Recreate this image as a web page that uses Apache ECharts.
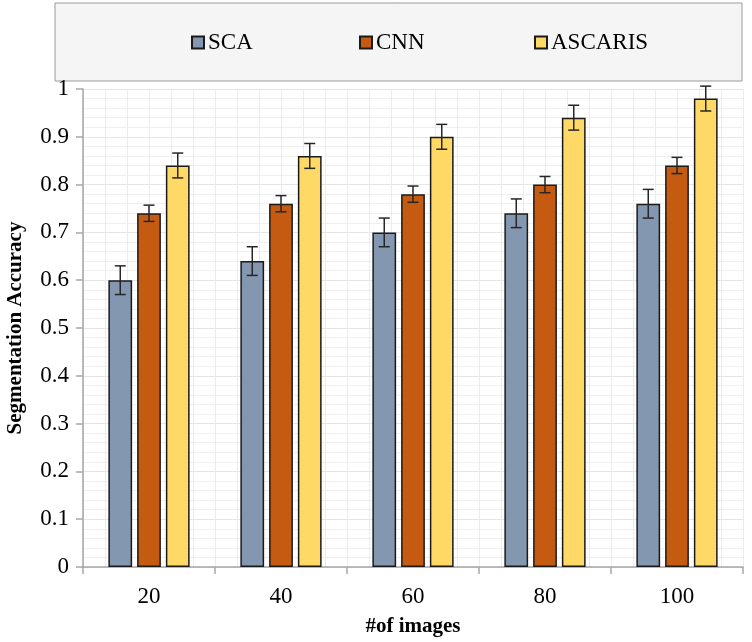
<!DOCTYPE html>
<html><head><meta charset="utf-8">
<script src="https://cdn.jsdelivr.net/npm/echarts@6/dist/echarts.min.js"></script>
<style>html,body{margin:0;padding:0;background:#fff}#c{width:752px;height:642px}</style>
</head><body><div id="c"></div>
<script>
const categories = ['20', '40', '60', '80', '100'];
const scaValues = [0.60, 0.64, 0.70, 0.74, 0.76];
const cnnValues = [0.74, 0.76, 0.78, 0.80, 0.84];
const ascarisValues = [0.84, 0.86, 0.90, 0.94, 0.98];
const scaErr = [0.03, 0.03, 0.03, 0.03, 0.03];
const cnnErr = [0.017, 0.017, 0.017, 0.017, 0.017];
const ascarisErr = [0.026, 0.026, 0.026, 0.026, 0.026];
const seriesNames = ['SCA', 'CNN', 'ASCARIS'];
const colors = ['#8497b0', '#c55a11', '#ffd966'];

const BAR_W = 0.18, BAR_GAP = 0.21;
const font = 'Liberation Serif, Times New Roman, serif';

function errSeries(vals, errs, idx) {
  return {
    type: 'custom', xAxisIndex: 0, yAxisIndex: 0, z: 5,
    data: vals.map((v, i) => [i, v, errs[i]]),
    renderItem: function (params, api) {
      const i = api.value(0), v = api.value(1), e = api.value(2);
      const band = api.size([1, 0])[0];
      const off = (idx - 1) * band * BAR_W * (1 + BAR_GAP);
      const hi = api.coord([i, v + e]);
      const lo = api.coord([i, v - e]);
      const x = hi[0] + off;
      const cap = 5.5;
      const st = { stroke: '#262626', lineWidth: 1.5 };
      return { type: 'group', children: [
        { type: 'line', shape: { x1: x, y1: hi[1], x2: x, y2: lo[1] }, style: st },
        { type: 'line', shape: { x1: x - cap, y1: hi[1], x2: x + cap, y2: hi[1] }, style: st },
        { type: 'line', shape: { x1: x - cap, y1: lo[1], x2: x + cap, y2: lo[1] }, style: st }
      ]};
    },
    silent: true, tooltip: { show: false }
  };
}

function barSeries(name, vals, color) {
  return {
    name: name, type: 'bar', xAxisIndex: 0, yAxisIndex: 0,
    barWidth: (BAR_W * 100) + '%', barGap: (BAR_GAP * 100) + '%',
    data: vals,
    itemStyle: { color: color, borderColor: '#1a1a1a', borderWidth: 1.5 }
  };
}

const legendBase = {
  top: 31, itemWidth: 12, itemHeight: 12, itemGap: 0, padding: 0,
  textStyle: { fontFamily: font, fontSize: 23, color: '#000', padding: [0, 0, 0, -1] },
  icon: 'rect'
};

const chart = echarts.init(document.getElementById('c'));
chart.setOption({
  backgroundColor: '#fff',
  animation: false,
  graphic: [{
    type: 'rect', z: -10,
    shape: { x: 55, y: 3, width: 687, height: 78 },
    style: { fill: '#f5f5f5', stroke: '#9a9a9a', lineWidth: 1 }
  }],
  legend: [
    Object.assign({}, legendBase, { data: ['SCA'], left: 191 }),
    Object.assign({}, legendBase, { data: ['CNN'], left: 359 }),
    Object.assign({}, legendBase, { data: ['ASCARIS'], left: 534 })
  ],
  grid: { left: 83, right: 9, top: 89, bottom: 75, containLabel: false, outerBoundsMode: 'none' },
  xAxis: [{
    type: 'category', data: categories,
    name: '#of images', nameLocation: 'middle', nameGap: 49,
    nameTextStyle: { fontFamily: font, fontSize: 21, fontWeight: 'bold', color: '#000' },
    axisLine: { lineStyle: { color: '#a6a6a6', width: 1.5 } },
    axisTick: { show: true, length: 7, lineStyle: { color: '#a6a6a6', width: 1.5 } },
    axisLabel: { fontFamily: font, fontSize: 23, color: '#000', margin: 18 },
    splitLine: { show: false }
  }, {
    type: 'value', min: 0, max: 60, interval: 2, show: true, position: 'top',
    axisLine: { show: false }, axisTick: { show: false }, axisLabel: { show: false },
    splitLine: { show: true, lineStyle: { color: '#ececec', width: 1 } }
  }],
  yAxis: {
    type: 'value', min: 0, max: 1, interval: 0.1,
    name: 'Segmentation Accuracy', nameLocation: 'middle', nameGap: 57,
    nameTextStyle: { fontFamily: font, fontSize: 21, fontWeight: 'bold', color: '#000' },
    axisLine: { show: true, lineStyle: { color: '#a6a6a6', width: 1.5 } },
    axisTick: { show: true, length: 7, lineStyle: { color: '#a6a6a6', width: 1.5 } },
    axisLabel: { fontFamily: font, fontSize: 23, color: '#000', margin: 14,
      formatter: v => String(Math.round(v * 10) / 10) },
    splitLine: { show: true, lineStyle: { color: '#e6e6e6', width: 1 } },
    minorTick: { show: false, splitNumber: 5 },
    minorSplitLine: { show: true, lineStyle: { color: '#efefef', width: 1 } }
  },
  series: [
    barSeries(seriesNames[0], scaValues, colors[0]),
    barSeries(seriesNames[1], cnnValues, colors[1]),
    barSeries(seriesNames[2], ascarisValues, colors[2]),
    errSeries(scaValues, scaErr, 0),
    errSeries(cnnValues, cnnErr, 1),
    errSeries(ascarisValues, ascarisErr, 2)
  ]
});
</script></body></html>
